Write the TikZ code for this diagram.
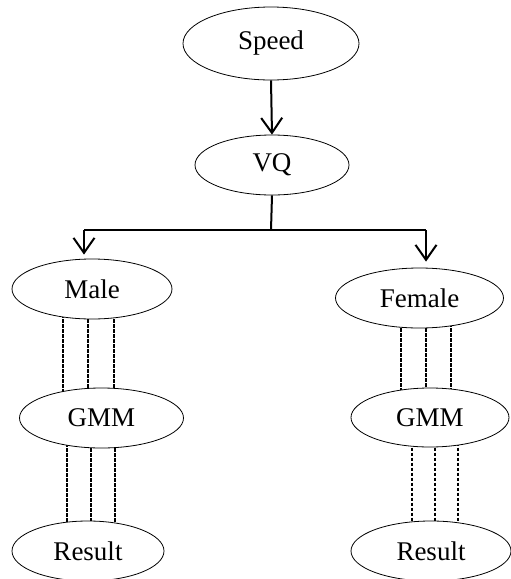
\documentclass[tikz,border=0pt]{standalone}
\usepackage{fontspec}
\setmainfont{Liberation Serif}
\usetikzlibrary{shapes.geometric,arrows.meta,backgrounds}
\begin{document}
\begin{tikzpicture}[x=1pt,y=-1pt,
  oval/.style={ellipse,draw,line width=0.8pt,fill=white,inner sep=0pt,
    font=\fontsize{27}{30}\selectfont},
  arr/.style={line width=2pt,-{Straight Barb[length=15pt,width=21pt,line width=2pt]}},
  trunk/.style={line width=2pt},
  dline/.style={line width=1.7pt,dash pattern=on 3.6pt off 1.4pt}]
\useasboundingbox (0,0) rectangle (511,579);
\node[oval,minimum width=176pt,minimum height=73pt] (speed) at (271,43.5) {Speed};
\node[oval,minimum width=154pt,minimum height=60pt] (vq) at (272,165) {VQ};
\node[oval,minimum width=160pt,minimum height=60pt] (male) at (92,289) {Male};
\node[oval,minimum width=168pt,minimum height=60pt] (female) at (419.5,298) {Female};
\node[oval,minimum width=164pt,minimum height=60pt] (gmml) at (101.5,418) {GMM};
\node[oval,minimum width=158pt,minimum height=59pt] (gmmr) at (430,417.5) {GMM};
\node[oval,minimum width=152pt,minimum height=60pt] (resl) at (88,551) {Result};
\node[oval,minimum width=160pt,minimum height=60pt] (resr) at (431,551) {Result};
\coordinate (j) at (271,230);
\coordinate (jl) at (84,230);
\coordinate (jr) at (426,230);
\coordinate (a1) at (63,0); \coordinate (a2) at (88,0); \coordinate (a3) at (114,0);
\coordinate (b1) at (67,0); \coordinate (b2) at (91,0); \coordinate (b3) at (115,0);
\coordinate (c1) at (401,0); \coordinate (c2) at (426,0); \coordinate (c3) at (451,0);
\coordinate (d1) at (412,0); \coordinate (d2) at (435,0); \coordinate (d3) at (458,0);
\draw[arr] (speed.south) -- (vq.north);
\draw[trunk] (vq.south) -- (j);
\draw[trunk] (jl) -- (jr);
\draw[arr,shorten >=4pt] (jl) -- (jl |- male.north);
\draw[arr,shorten >=6pt] (jr) -- (jr |- female.north);
\begin{scope}[on background layer]
\foreach \p in {a1,a2,a3} \draw[dline] (\p |- male.center) -- (\p |- gmml.center);
\foreach \p in {b1,b2,b3} \draw[dline] (\p |- gmml.center) -- (\p |- resl.center);
\foreach \p in {c1,c2,c3} \draw[dline] (\p |- female.center) -- (\p |- gmmr.center);
\foreach \p in {d1,d2,d3} \draw[dline] (\p |- gmmr.center) -- (\p |- resr.center);
\end{scope}
\end{tikzpicture}
\end{document}
